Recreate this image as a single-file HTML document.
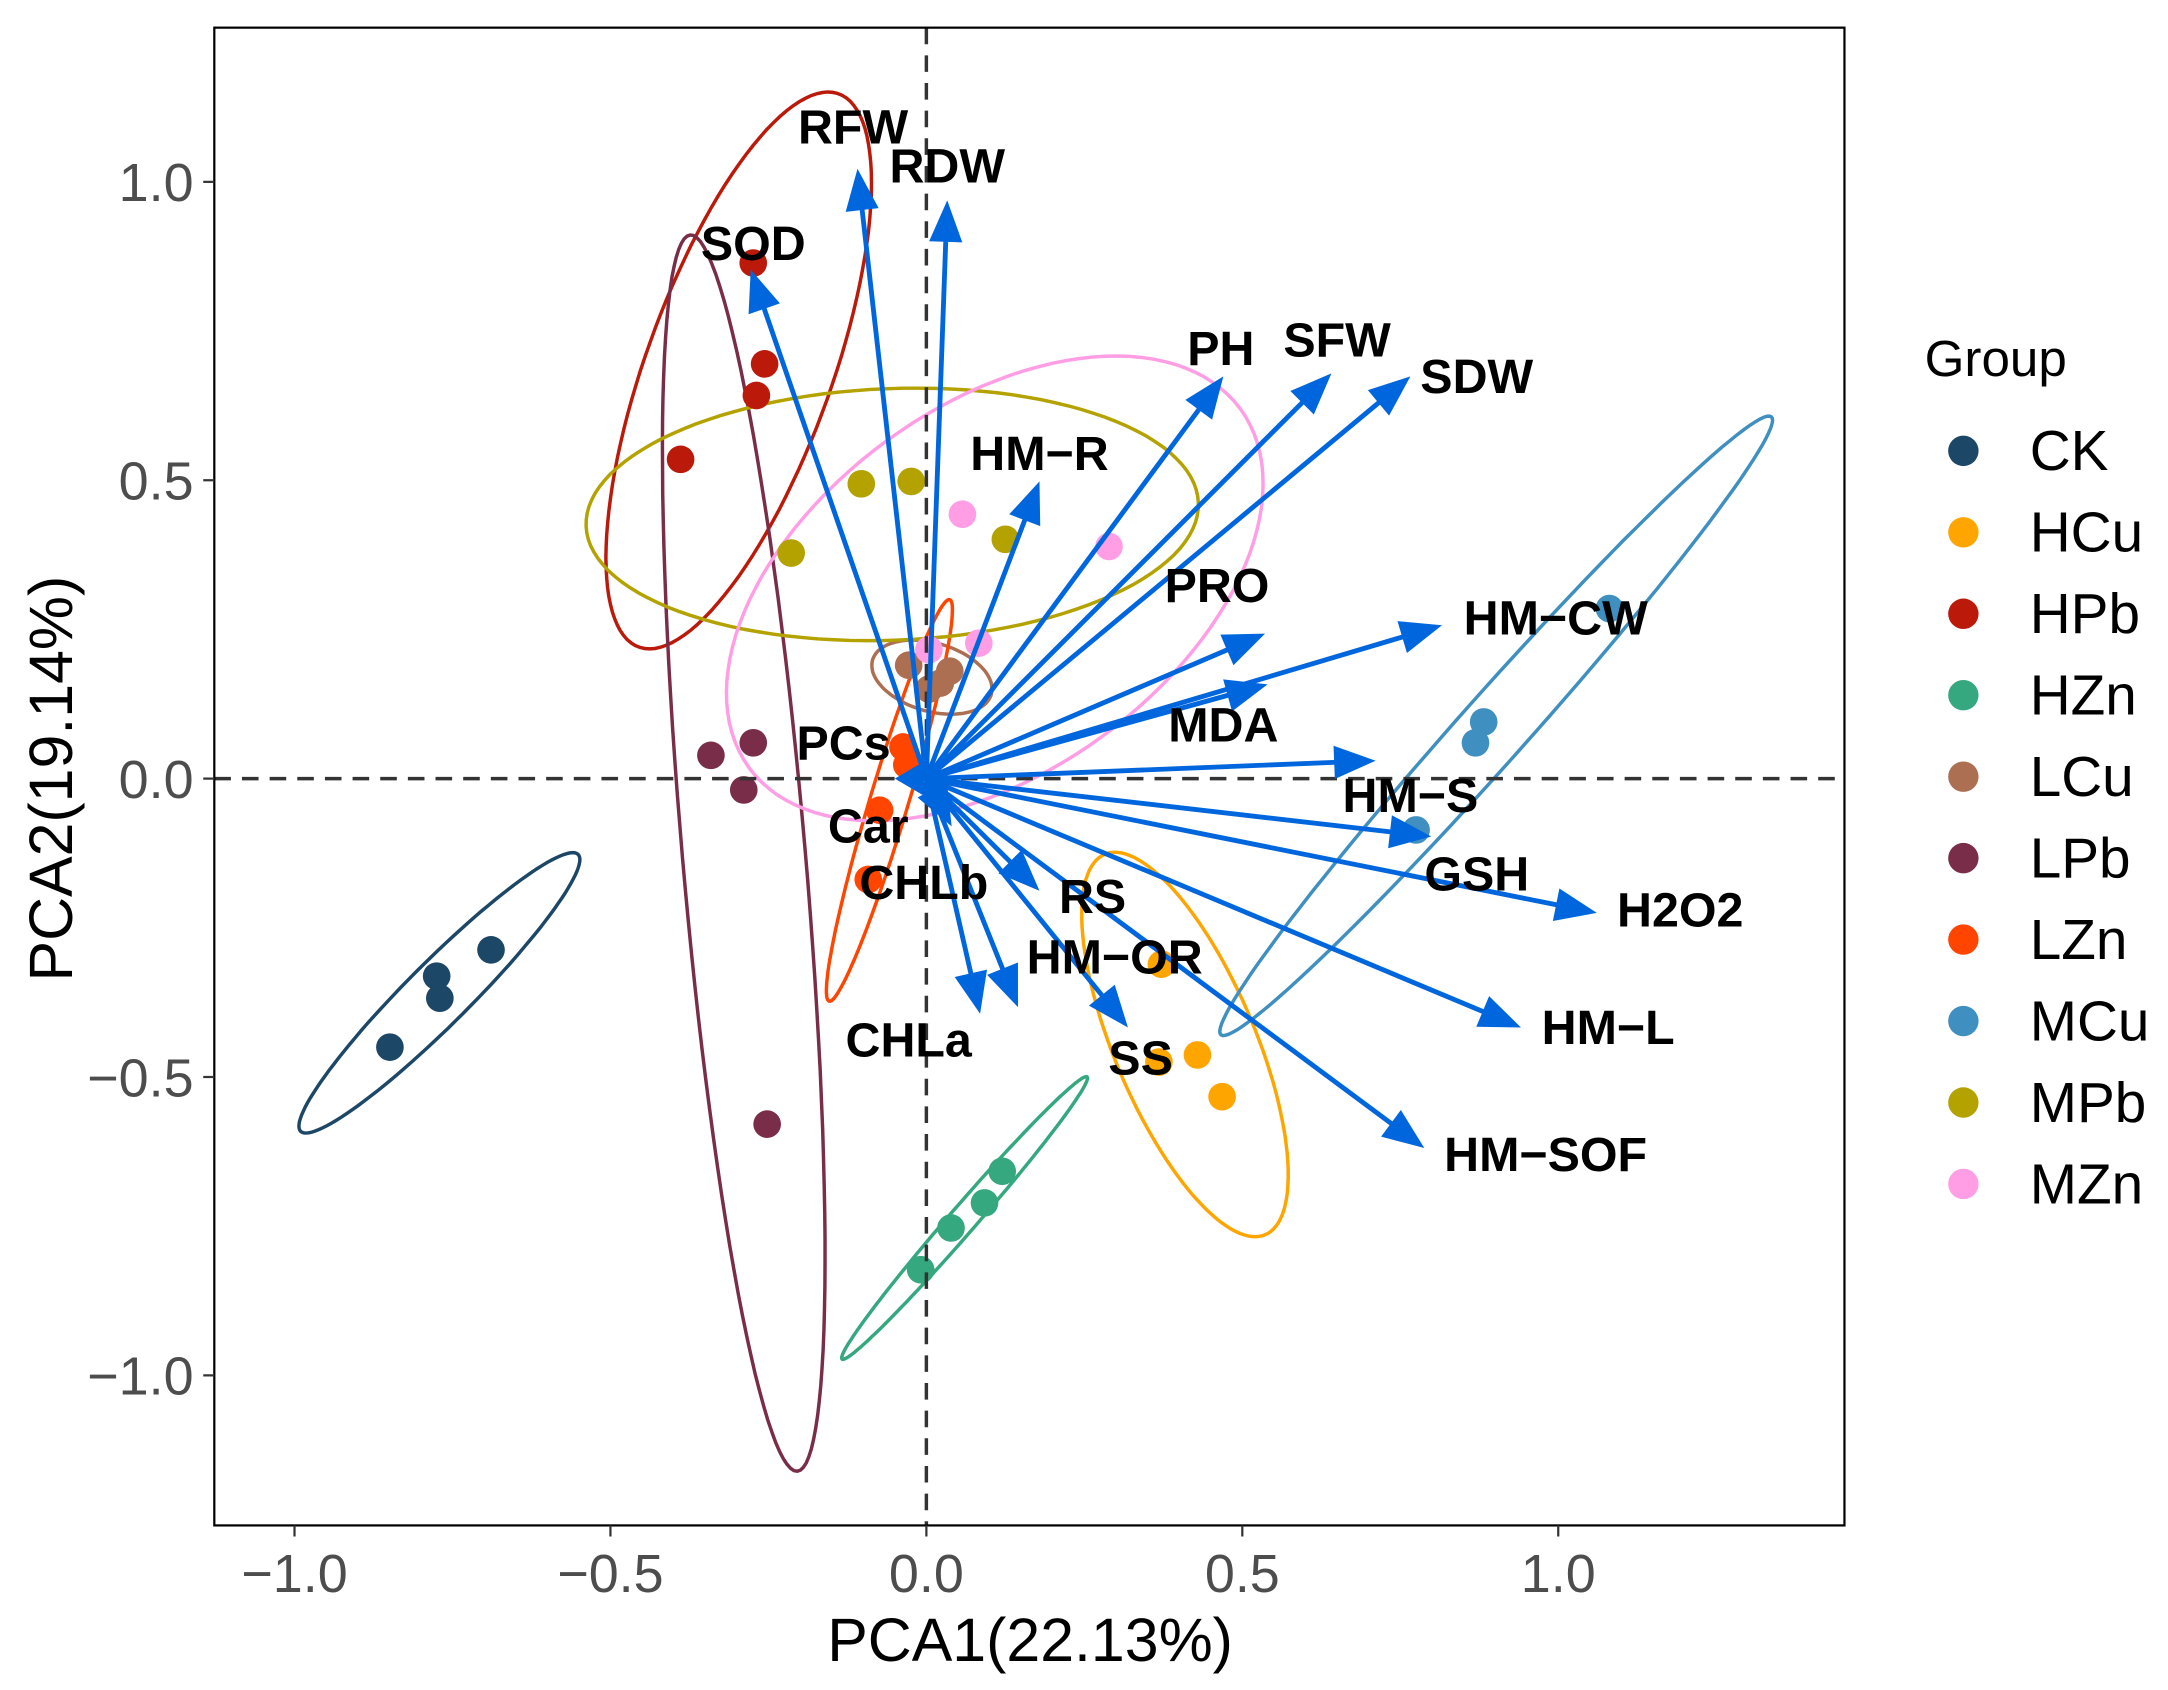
<!DOCTYPE html>
<html><head><meta charset="utf-8">
<style>
html,body{margin:0;padding:0;background:#fff;}
svg{display:block;}
text{font-family:"Liberation Sans",Arial,sans-serif;}
</style></head>
<body>
<svg id="chart" width="2168" height="1690" viewBox="0 0 1568 1222" preserveAspectRatio="none" xmlns="http://www.w3.org/2000/svg">
<rect x="0" y="0" width="1568" height="1222" fill="#fff"/>
<g id="ell"></g>
<g id="pts"></g>
<g id="zero"></g>
<g id="arr"></g>
<g id="lab"></g>
<g id="axes"></g>
<g id="legend"></g>
</svg>
<script>
const groups = ["CK","HCu","HPb","HZn","LCu","LPb","LZn","MCu","MPb","MZn"];
const groupColors = ["#1d4766","#ffa500","#bb1a0a","#35a87f","#ad6f52","#7a2d48","#ff4500","#3f8fc0","#b3a200","#ff9ee5"];
const pc1 = [
 [-0.849,-0.775,-0.770,-0.689],
 [0.372,0.368,0.429,0.468],
 [-0.274,-0.256,-0.269,-0.389],
 [-0.009,0.039,0.092,0.120],
 [-0.028,0.022,0.037,0.004],
 [-0.341,-0.274,-0.289,-0.252],
 [-0.037,-0.031,-0.074,-0.092],
 [0.882,0.869,0.775,1.081],
 [-0.214,-0.103,-0.024,0.125],
 [0.057,0.289,0.083,0.004]
];
const pc2 = [
 [-0.450,-0.331,-0.368,-0.287],
 [-0.311,-0.475,-0.463,-0.533],
 [0.864,0.695,0.642,0.535],
 [-0.823,-0.753,-0.711,-0.658],
 [0.190,0.160,0.180,0.150],
 [0.039,0.060,-0.019,-0.579],
 [0.053,0.023,-0.053,-0.169],
 [0.095,0.060,-0.086,0.285],
 [0.378,0.494,0.498,0.401],
 [0.443,0.389,0.227,0.216]
];
const varNames = ["RFW","RDW","SOD","PH","SFW","SDW","HM\u2212R","PRO","HM\u2212CW","MDA","HM\u2212S","GSH","H2O2","HM\u2212L","HM\u2212SOF","RS","HM\u2212OR","SS","CHLa","CHLb","Car","PCs"];
const loadX = [-0.109,0.033,-0.278,0.470,0.641,0.766,0.179,0.536,0.816,0.540,0.711,0.799,1.061,0.941,0.788,0.179,0.145,0.319,0.085,0.040,0.005,-0.050];
const loadY = [1.022,0.969,0.853,0.674,0.679,0.674,0.498,0.243,0.257,0.158,0.030,-0.097,-0.225,-0.417,-0.619,-0.188,-0.383,-0.417,-0.394,-0.080,-0.035,0.000];
const labelX = [-0.116,0.033,-0.274,0.466,0.650,0.871,0.179,0.460,0.996,0.470,0.766,0.871,1.193,1.079,0.980,0.263,0.298,0.339,-0.028,-0.004,-0.092,-0.131];
const labelY = [1.092,1.027,0.897,0.721,0.735,0.674,0.545,0.324,0.269,0.090,-0.028,-0.160,-0.220,-0.417,-0.630,-0.197,-0.299,-0.468,-0.438,-0.174,-0.079,0.060];
const xTicks = [-1.0,-0.5,0.0,0.5,1.0];
const yTicks = [1.0,0.5,0.0,-0.5,-1.0];
const ELL_SCALE = 3.4;

const NS="http://www.w3.org/2000/svg";
const PL=155, PR=1334, PT=20, PB=1103;
function X(v){return 670+457*v;}
function Y(v){return 563-431.5*v;}
function mk(tag,attrs,parent){const e=document.createElementNS(NS,tag);for(const k in attrs)e.setAttribute(k,attrs[k]);parent.appendChild(e);return e;}
function fmt(v){return (v<0?"\u2212":"")+Math.abs(v).toFixed(1);}

const gE=document.getElementById('ell');
groups.forEach((g,i)=>{
  const xs=pc1[i], ys=pc2[i], n=xs.length;
  const mx=xs.reduce((a,b)=>a+b)/n, my=ys.reduce((a,b)=>a+b)/n;
  let sxx=0,syy=0,sxy=0;
  for(let k=0;k<n;k++){sxx+=(xs[k]-mx)**2;syy+=(ys[k]-my)**2;sxy+=(xs[k]-mx)*(ys[k]-my);}
  sxx/=(n-1);syy/=(n-1);sxy/=(n-1);
  const tr=sxx+syy, det=sxx*syy-sxy*sxy;
  const l1=tr/2+Math.sqrt(tr*tr/4-det), l2=Math.max(tr/2-Math.sqrt(tr*tr/4-det),1e-9);
  const th=Math.atan2(l1-sxx,sxy)||0;
  const a=ELL_SCALE*Math.sqrt(l1), b=ELL_SCALE*Math.sqrt(l2);
  let d="";
  for(let t=0;t<=120;t++){
    const ang=t/120*2*Math.PI;
    const u=a*Math.cos(ang), w=b*Math.sin(ang);
    const px=mx+u*Math.cos(th)-w*Math.sin(th), py=my+u*Math.sin(th)+w*Math.cos(th);
    d+=(t?"L":"M")+X(px).toFixed(1)+","+Y(py).toFixed(1);
  }
  const e=mk('path',{d:d+"Z",fill:"none",stroke:groupColors[i],"stroke-width":2.5},gE);
  
  
});

const gP=document.getElementById('pts');
groups.forEach((g,i)=>{
  pc1[i].forEach((v,k)=>{
    const c=mk('circle',{cx:X(v),cy:Y(pc2[i][k]),r:10,fill:groupColors[i]},gP);
    
    
  });
});

const gZ=document.getElementById('zero');
const zl1=mk('line',{x1:X(0),x2:X(0),y1:PT,y2:PB,stroke:"#333","stroke-width":2.5,"stroke-dasharray":"12,8"},gZ);


const zl2=mk('line',{x1:PL,x2:PR,y1:Y(0),y2:Y(0),stroke:"#333","stroke-width":2.5,"stroke-dasharray":"12,8"},gZ);



const gA=document.getElementById('arr');
const gL=document.getElementById('lab');
varNames.forEach((nm,i)=>{
  const x0=X(0),y0=Y(0),x1=X(loadX[i]),y1=Y(loadY[i]);
  const dx=x1-x0, dy=y1-y0, L=Math.hypot(dx,dy)||1;
  const ux=dx/L, uy=dy/L, hl=Math.min(30,L*0.9), hw=12;
  const bx=x1-ux*hl, by=y1-uy*hl;
  const ln=mk('line',{x1:x0,y1:y0,x2:bx+ux*2,y2:by+uy*2,stroke:"#0066dd","stroke-width":3.5},gA);
  
  
  const hd=mk('polygon',{points:`${x1},${y1} ${bx-uy*hw},${by+ux*hw} ${bx+uy*hw},${by-ux*hw}`,fill:"#0066dd"},gA);
  
  
  const t=mk('text',{x:X(labelX[i]),y:Y(labelY[i])+12,"font-size":35,"font-weight":"bold","text-anchor":"middle",fill:"#000"},gL);
  t.textContent=nm;
  
  
});

const gX=document.getElementById('axes');
const fr=mk('rect',{x:PL,y:PT,width:PR-PL,height:PB-PT,fill:"none",stroke:"#000","stroke-width":1.6},gX);


xTicks.forEach(v=>{
  const tk=mk('line',{x1:X(v),x2:X(v),y1:PB,y2:PB+8,stroke:"#333","stroke-width":1.6},gX);
  
  
  const t=mk('text',{x:X(v),y:1151,"font-size":39,"text-anchor":"middle",fill:"#4d4d4d"},gX);
  t.textContent=fmt(v);
  
  
});
yTicks.forEach(v=>{
  const tk=mk('line',{x1:PL-8,x2:PL,y1:Y(v),y2:Y(v),stroke:"#333","stroke-width":1.6},gX);
  
  
  const t=mk('text',{x:140,y:Y(v)+14,"font-size":39,"text-anchor":"end",fill:"#4d4d4d"},gX);
  t.textContent=fmt(v);
  
  
});
const xt=mk('text',{x:745,y:1201,"font-size":44,"text-anchor":"middle",fill:"#000"},gX);
xt.textContent="PCA1(22.13%)";


const yt=mk('text',{x:0,y:0,"font-size":44,"text-anchor":"middle",fill:"#000",transform:"translate(52,563) rotate(-90)"},gX);
yt.textContent="PCA2(19.14%)";



const gLg=document.getElementById('legend');
const lt=mk('text',{x:1392,y:272,"font-size":37,fill:"#000"},gLg);
lt.textContent="Group";


groups.forEach((g,i)=>{
  const cy=326+i*58.9;
  const c=mk('circle',{cx:1420,cy:cy,r:11,fill:groupColors[i]},gLg);
  
  
  const t=mk('text',{x:1468,y:cy+14,"font-size":41,fill:"#000"},gLg);
  t.textContent=g;
  
  
});
</script>
</body></html>
